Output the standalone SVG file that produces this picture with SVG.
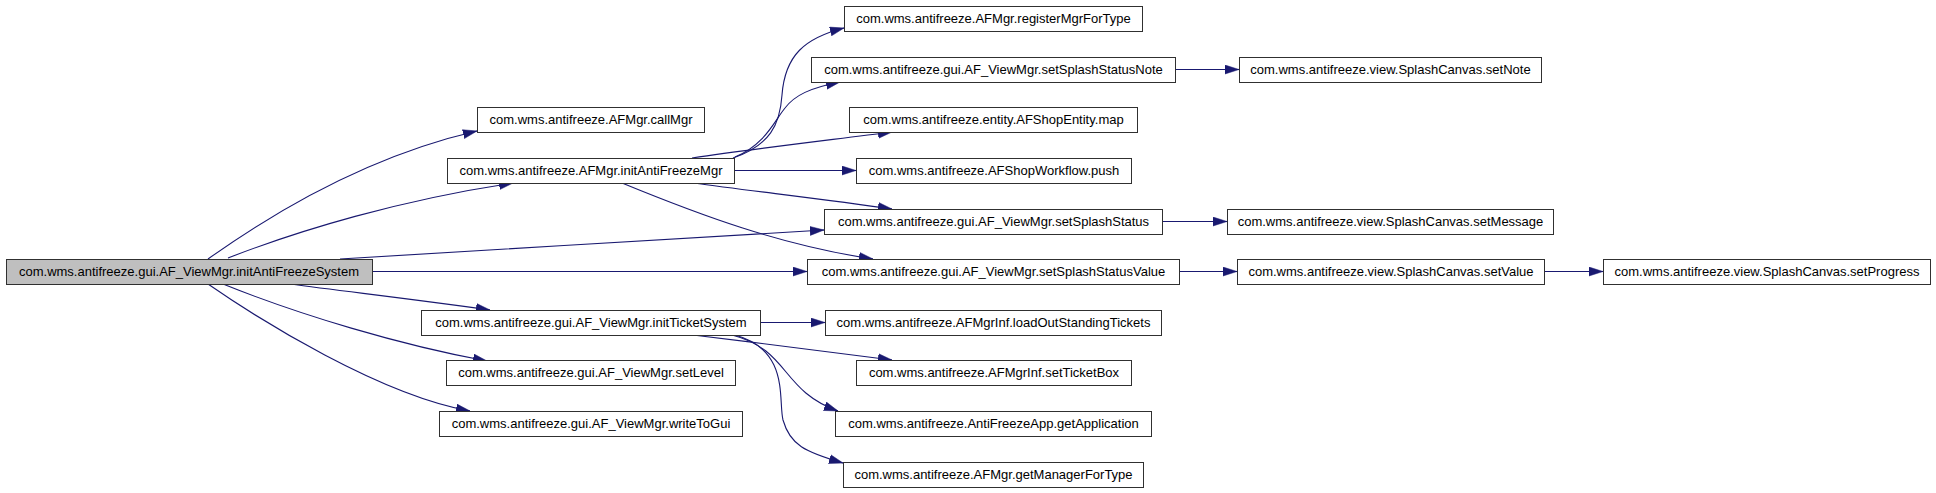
<svg xmlns="http://www.w3.org/2000/svg" width="1936" height="493" viewBox="0 0 1936 493">
<style>
.n rect{fill:#fff;stroke:#303030;stroke-width:1}
.n.main rect{fill:#bfbfbf}
.n text{font-family:"Liberation Sans",Arial,sans-serif;font-size:13px;text-anchor:middle;fill:#000}
.e path{fill:none;stroke:#191970;stroke-width:1.1;marker-end:url(#ah)}
</style>
<defs>
<marker id="ah" markerUnits="userSpaceOnUse" markerWidth="14" markerHeight="10" viewBox="0 0 14 10" refX="14" refY="5" orient="auto">
<path d="M0,0.5 L14,5 L0,9.5 z" fill="#191970" stroke="#191970" stroke-width="0.5"/>
</marker>
</defs>
<rect width="1936" height="493" fill="#fff"/>
<g id="edges" class="e">
<path d="M208,259 C260,222 360,158 477,131"/>
<path d="M228,258 C300,230 400,200 513,183"/>
<path d="M340,259 C480,250 700,238 824,230"/>
<path d="M372,271.5 L807,271.5"/>
<path d="M290,284 C350,292 420,300 490,310"/>
<path d="M223,284 C300,315 400,345 487,361"/>
<path d="M208,284 C260,320 380,395 470,411"/>
<path d="M733,158 C770,145 780,125 782,95 C785,55 805,38 844,28"/>
<path d="M735,157 C765,145 775,120 785,108 C795,95 810,88 840,82"/>
<path d="M692,158 C760,148 830,140 892,132"/>
<path d="M734,170.5 L856,170.5"/>
<path d="M693,183 C760,192 830,200 892,209"/>
<path d="M622,183 C700,215 780,245 873,259"/>
<path d="M1175,69.5 L1239,69.5"/>
<path d="M1162,221.5 L1227,221.5"/>
<path d="M1179,271.5 L1237,271.5"/>
<path d="M1544,271.5 L1603,271.5"/>
<path d="M760,322.5 L825,322.5"/>
<path d="M693,335 C760,343 830,352 892,360"/>
<path d="M732,335 C790,350 780,390 838,411"/>
<path d="M735,335 C790,350 778,400 783,420 C790,445 805,452 843,463"/>
</g>
<g id="n_main" class="n main"><rect x="6.5" y="259.5" width="366" height="25"/><text x="189" y="276">com.wms.antifreeze.gui.AF_ViewMgr.initAntiFreezeSystem</text></g>
<g id="n_callMgr" class="n"><rect x="477.5" y="107.5" width="227" height="25"/><text x="591" y="124">com.wms.antifreeze.AFMgr.callMgr</text></g>
<g id="n_initAntiFreezeMgr" class="n"><rect x="447.5" y="158.5" width="287" height="25"/><text x="591" y="175">com.wms.antifreeze.AFMgr.initAntiFreezeMgr</text></g>
<g id="n_initTicketSystem" class="n"><rect x="421.5" y="310.5" width="339" height="25"/><text x="591" y="327">com.wms.antifreeze.gui.AF_ViewMgr.initTicketSystem</text></g>
<g id="n_setLevel" class="n"><rect x="446.5" y="360.5" width="289" height="25"/><text x="591" y="377">com.wms.antifreeze.gui.AF_ViewMgr.setLevel</text></g>
<g id="n_writeToGui" class="n"><rect x="439.5" y="411.5" width="303" height="25"/><text x="591" y="428">com.wms.antifreeze.gui.AF_ViewMgr.writeToGui</text></g>
<g id="n_registerMgrForType" class="n"><rect x="844.5" y="6.5" width="298" height="25"/><text x="993.5" y="23">com.wms.antifreeze.AFMgr.registerMgrForType</text></g>
<g id="n_setSplashStatusNote" class="n"><rect x="811.5" y="57.5" width="364" height="25"/><text x="993.5" y="74">com.wms.antifreeze.gui.AF_ViewMgr.setSplashStatusNote</text></g>
<g id="n_map" class="n"><rect x="849.5" y="107.5" width="288" height="25"/><text x="993.5" y="124">com.wms.antifreeze.entity.AFShopEntity.map</text></g>
<g id="n_push" class="n"><rect x="856.5" y="158.5" width="275" height="25"/><text x="994" y="175">com.wms.antifreeze.AFShopWorkflow.push</text></g>
<g id="n_setSplashStatus" class="n"><rect x="824.5" y="209.5" width="338" height="25"/><text x="993.5" y="226">com.wms.antifreeze.gui.AF_ViewMgr.setSplashStatus</text></g>
<g id="n_setSplashStatusValue" class="n"><rect x="807.5" y="259.5" width="372" height="25"/><text x="993.5" y="276">com.wms.antifreeze.gui.AF_ViewMgr.setSplashStatusValue</text></g>
<g id="n_loadOutStandingTickets" class="n"><rect x="825.5" y="310.5" width="336" height="25"/><text x="993.5" y="327">com.wms.antifreeze.AFMgrInf.loadOutStandingTickets</text></g>
<g id="n_setTicketBox" class="n"><rect x="856.5" y="360.5" width="275" height="25"/><text x="994" y="377">com.wms.antifreeze.AFMgrInf.setTicketBox</text></g>
<g id="n_getApplication" class="n"><rect x="835.5" y="411.5" width="316" height="25"/><text x="993.5" y="428">com.wms.antifreeze.AntiFreezeApp.getApplication</text></g>
<g id="n_getManagerForType" class="n"><rect x="843.5" y="462.5" width="300" height="25"/><text x="993.5" y="479">com.wms.antifreeze.AFMgr.getManagerForType</text></g>
<g id="n_setNote" class="n"><rect x="1239.5" y="57.5" width="302" height="25"/><text x="1390.5" y="74">com.wms.antifreeze.view.SplashCanvas.setNote</text></g>
<g id="n_setMessage" class="n"><rect x="1227.5" y="209.5" width="326" height="25"/><text x="1390.5" y="226">com.wms.antifreeze.view.SplashCanvas.setMessage</text></g>
<g id="n_setValue" class="n"><rect x="1237.5" y="259.5" width="307" height="25"/><text x="1391" y="276">com.wms.antifreeze.view.SplashCanvas.setValue</text></g>
<g id="n_setProgress" class="n"><rect x="1603.5" y="259.5" width="327" height="25"/><text x="1767" y="276">com.wms.antifreeze.view.SplashCanvas.setProgress</text></g>
</svg>
